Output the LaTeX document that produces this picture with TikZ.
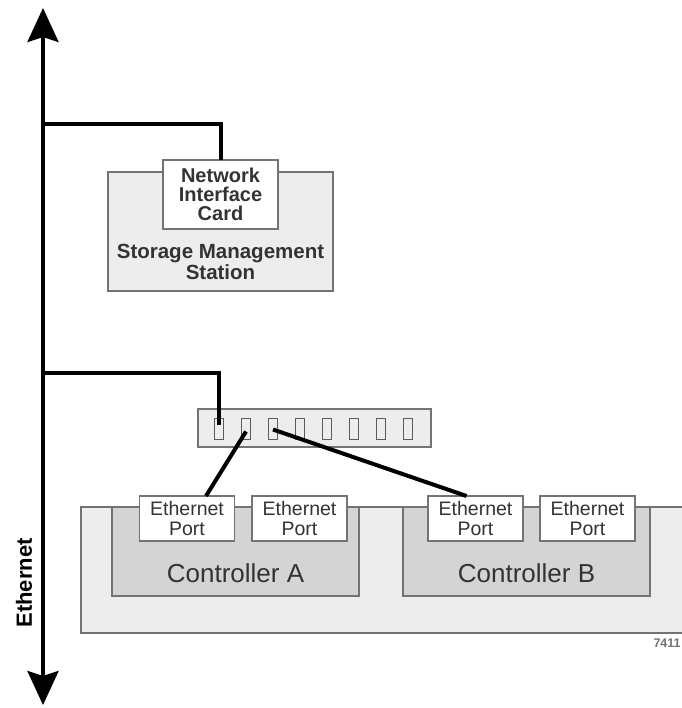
\documentclass[tikz,border=0pt]{standalone}
\usepackage{fontspec}
\setmainfont{Liberation Sans}
\usepackage{tikz}
\usetikzlibrary{positioning,arrows.meta}
\definecolor{edgegray}{rgb}{0.45,0.45,0.45}
\definecolor{lightfill}{rgb}{0.93,0.93,0.93}
\definecolor{darkfill}{rgb}{0.83,0.83,0.83}
\definecolor{textgray}{rgb}{0.2,0.2,0.2}

\begin{document}
\begin{tikzpicture}[
  x = 1pt,
  y = -1pt,
  box/.style = {
    draw = edgegray,
    line width = 1.2pt,
    inner sep = 0pt,
    outer sep = 0pt,
  },
  ethport/.style = {
    box,
    fill = white,
    minimum width = 95pt,
    minimum height = 45pt,
    align = center,
    text = textgray,
    font = \fontsize{19.5}{19.5}\selectfont,
  },
  ctrl/.style = {
    box,
    fill = darkfill,
    minimum width = 247pt,
    minimum height = 89pt,
  },
  ctrltext/.style = {
    text = textgray,
    font = \fontsize{26}{26}\selectfont,
  },
  swport/.style = {
    box,
    line width = 1pt,
    draw = textgray!80,
    fill = lightfill,
    minimum width = 9pt,
    minimum height = 21pt,
  },
  cable/.style = {line width = 4pt},
  >={Stealth[length=34pt,width=31pt,inset=5pt]},
]

  \useasboundingbox (0,0) rectangle (681,708);

  % ethernet backbone
  \coordinate (top) at (43,8);
  \coordinate (bottom) at (43,705);
  \coordinate (tap1) at (43,124);
  \coordinate (tap2) at (43,373);
  \draw[<->,line width=4pt] (bottom) -- (top);
  \node[rotate=90,font=\bfseries\fontsize{22}{22}\selectfont] (ethlabel) at (24,583) {Ethernet};

  % management station
  \node[box,fill=lightfill,minimum width=225pt,minimum height=119pt] (sms) at (220.5,231.5) {};
  \node[font=\bfseries\fontsize{20.5}{21}\selectfont,align=center,text=textgray] (smstext) at ([yshift=29pt]sms.south) {Storage Management\\Station};
  \node[box,fill=white,minimum width=115pt,minimum height=69pt,align=center,text=textgray,
        font=\bfseries\fontsize{20}{19}\selectfont] (nic) at (220.5,194.5) {Network\\Interface\\Card};

  % switch
  \node[box,fill=lightfill,minimum width=233pt,minimum height=38pt] (switch) at (314.5,428) {};
  \foreach \i in {1,...,8}
    \node[swport] (sp\i) at ({219+27*(\i-1)},428.5) {};

  % storage array
  \node[box,fill=lightfill,minimum width=640pt,minimum height=126pt] (array) at (401,570) {};

  \node[ctrl] (ctrlA) at (235.5,551.5) {};
  \node[ctrltext] (ctrlAtext) at ([yshift=23pt]ctrlA.south) {Controller A};
  \node[ethport] (portA1) at (187,518.5) {Ethernet\\Port};
  \node[ethport] (portA2) at (299.5,518.5) {Ethernet\\Port};

  \node[ctrl] (ctrlB) at (526.5,551.5) {};
  \node[ctrltext] (ctrlBtext) at ([yshift=23pt]ctrlB.south) {Controller B};
  \node[ethport] (portB1) at (475.5,518.5) {Ethernet\\Port};
  \node[ethport] (portB2) at (587.5,518.5) {Ethernet\\Port};

  \node[text=edgegray,font=\bfseries\fontsize{12.5}{12}\selectfont,anchor=west] (figid) at (650,643) {7411};

  % cables
  \draw[cable] (tap1) -| (nic.north);
  \draw[cable] (tap2) -| ([yshift=4pt]sp1.center);
  \draw[cable] ([yshift=-3pt]sp2.center) -- ([xshift=19pt]portA1.north);
  \draw[cable] ([yshift=-1pt]sp3.center) -- ([xshift=-9pt]portB1.north);

\end{tikzpicture}
\end{document}
